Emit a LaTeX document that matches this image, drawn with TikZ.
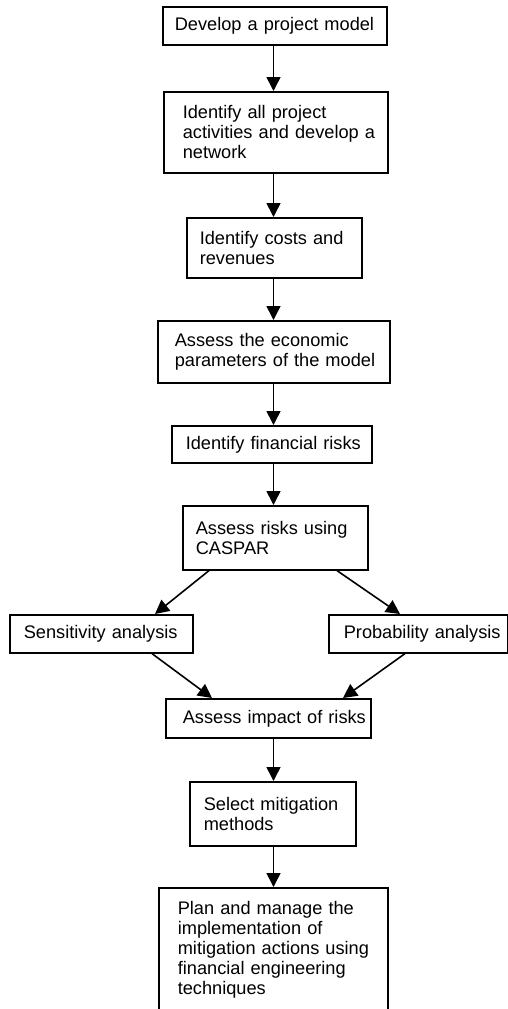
\documentclass[tikz,border=0pt]{standalone}
\usepackage{fontspec}
\setmainfont{Liberation Sans}
\usetikzlibrary{arrows.meta}
% text of a box, indented from its left edge; lines are never rewrapped
\newcommand\steptext[2]{\leftskip=#1pt\relax\rightskip=-40pt plus 1fil\relax #2\par}
\begin{document}
\begin{tikzpicture}[x=1pt,y=-1pt,
  stepbox/.style={draw, line width=1.6pt, anchor=north west,
    inner xsep=0pt, inner ysep=0pt, align=left,
    font=\fontsize{18.2}{20}\selectfont},
  flow/.style={line width=1.6pt, -{Triangle[length=14pt,width=14pt]}}]
\useasboundingbox (0,0) rectangle (508,1009);
\clip (0,0) rectangle (508,1009);

% process steps
\node[stepbox, text width=224pt, minimum height=38pt] (b1) at (162,6)
  {\steptext{12}{Develop a project model}};
\node[stepbox, text width=224pt, minimum height=81pt] (b2) at (163,91)
  {\steptext{19}{Identify all project\\activities and develop a\\network}};
\node[stepbox, text width=175pt, minimum height=60pt] (b3) at (186,217)
  {\steptext{13}{Identify costs and\\revenues}};
\node[stepbox, text width=232pt, minimum height=62pt] (b4) at (157,320)
  {\steptext{17}{Assess the economic\\parameters of the model}};
\node[stepbox, text width=200pt, minimum height=37pt] (b5) at (171,425)
  {\steptext{14}{Identify financial risks}};
\node[stepbox, text width=185pt, minimum height=64pt] (b6) at (182,505)
  {\steptext{13}{Assess risks using\\CASPAR}};
\node[stepbox, text width=183pt, minimum height=38pt] (sens) at (9,614)
  {\steptext{14}{Sensitivity analysis}};
\node[stepbox, text width=179pt, minimum height=38pt] (prob) at (328,614)
  {\steptext{15}{Probability analysis}};
\node[stepbox, text width=205pt, minimum height=39pt] (impact) at (165,698)
  {\steptext{17}{Assess impact of risks}};
\node[stepbox, text width=166pt, minimum height=64pt] (sel) at (189,781)
  {\steptext{14}{Select mitigation\\methods}};
\node[stepbox, text width=229pt, minimum height=124pt] (fin) at (158,887)
  {\steptext{19}{Plan and manage the\\implementation of\\mitigation actions using\\financial engineering\\techniques}};

% vertical axis of the main flow
\coordinate (axis) at (273.5,0);

\draw[flow] (b1.south -| axis) -- (b2.north -| axis);
\draw[flow] (b2.south -| axis) -- (b3.north -| axis);
\draw[flow] (b3.south -| axis) -- (b4.north -| axis);
\draw[flow] (b4.south -| axis) -- (b5.north -| axis);
\draw[flow] (b5.south -| axis) -- (b6.north -| axis);

% branch into the two analyses and back
\draw[flow] ([xshift=27pt]b6.south west) -- ([xshift=146pt]sens.north west);
\draw[flow] ([xshift=155pt]b6.south west) -- ([xshift=72pt]prob.north west);
\draw[flow] ([xshift=143pt]sens.south west) -- ([xshift=47pt]impact.north west);
\draw[flow] ([xshift=77pt]prob.south west) -- ([xshift=178pt]impact.north west);

\draw[flow] (impact.south -| axis) -- (sel.north -| axis);
\draw[flow] (sel.south -| axis) -- (fin.north -| axis);
\end{tikzpicture}
\end{document}
